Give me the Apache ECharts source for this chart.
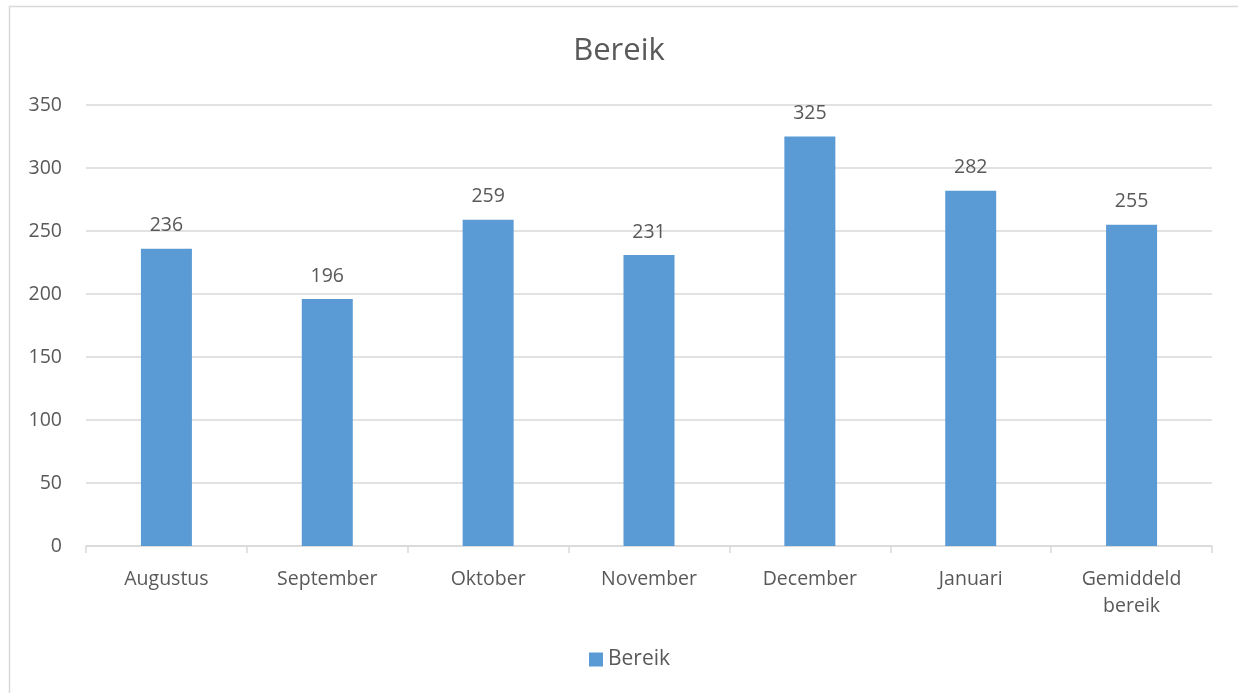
<!DOCTYPE html>
<html>
<head>
<meta charset="utf-8">
<title>Bereik</title>
<script src="https://cdn.jsdelivr.net/npm/echarts@6/dist/echarts.min.js"></script>
<style>
  html, body { margin: 0; padding: 0; background: #fff; }
  #chartDiv { width: 1238px; height: 693px; }
</style>
</head>
<body>
<div id="chartDiv"></div>
<script>
var maanden = ['Augustus', 'September', 'Oktober', 'November', 'December', 'Januari', 'Gemiddeld\nbereik'];
var bereikWaarden = [236, 196, 259, 231, 325, 282, 255];
var serieNaam = 'Bereik';

var tekstKleur = '#595959';
var font = '"Open Sans", sans-serif';

var chartDiv = echarts.init(document.getElementById('chartDiv'));
var option = {
    animation: false,
    textStyle: { fontFamily: font },
    title: {
        text: 'Bereik',
        left: 'center',
        top: 31,
        textStyle: { fontFamily: font, fontSize: 31, fontWeight: 'normal', color: tekstKleur }
    },
    // kader van het diagram (rechts en onder vallen buiten beeld)
    graphic: [{
        type: 'rect',
        shape: { x: 9.5, y: 6.5, width: 1300, height: 800 },
        style: { fill: 'none', stroke: '#d9d9d9', lineWidth: 1.5 },
        silent: true
    }],
    legend: {
        bottom: 18,
        left: 584,
        itemWidth: 14,
        itemHeight: 14,
        itemGap: 4,
        icon: 'rect',
        data: [serieNaam],
        textStyle: { fontFamily: font, fontSize: 21, color: tekstKleur }
    },
    grid: { left: 86, right: 26, top: 105, bottom: 147 },
    xAxis: {
        type: 'category',
        data: maanden,
        axisLine: { lineStyle: { color: '#d9d9d9', width: 1.5 } },
        axisTick: { show: true, length: 7, lineStyle: { color: '#d9d9d9', width: 1.5 } },
        axisLabel: { fontFamily: font, fontSize: 19.5, color: tekstKleur, margin: 20, lineHeight: 27, interval: 0 }
    },
    yAxis: {
        type: 'value',
        min: 0,
        max: 350,
        interval: 50,
        axisLine: { show: false },
        axisTick: { show: false },
        splitLine: { lineStyle: { color: '#d9d9d9', width: 1.5 } },
        axisLabel: { fontFamily: font, fontSize: 19.5, color: tekstKleur, margin: 24 }
    },
    series: [{
        type: 'bar',
        name: serieNaam,
        data: bereikWaarden,
        barWidth: 51,
        itemStyle: { color: '#5b9bd5' },
        label: {
            show: true,
            position: 'top',
            distance: 13,
            fontFamily: font,
            fontSize: 19.5,
            color: tekstKleur
        }
    }]
};
chartDiv.setOption(option);
</script>
</body>
</html>
